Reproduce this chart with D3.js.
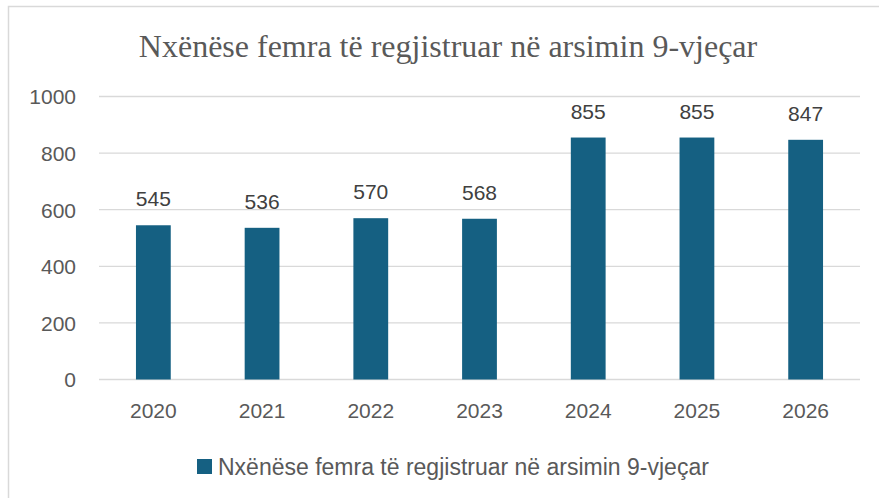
<!DOCTYPE html>
<html>
<head>
<meta charset="utf-8">
<script src="https://cdn.jsdelivr.net/npm/d3@7"></script>
<style>
  body { margin: 0; background: #fff; }
  svg { display: block; }
</style>
</head>
<body>
<svg id="chart" width="879" height="498"></svg>
<script>
// Të dhënat
const years = ["2020", "2021", "2022", "2023", "2024", "2025", "2026"];
const students = [545, 536, 570, 568, 855, 855, 847];
const yTicks = [0, 200, 400, 600, 800, 1000];
const chartTitle = "Nxënëse femra të regjistruar në arsimin 9-vjeçar";
const seriesName = "Nxënëse femra të regjistruar në arsimin 9-vjeçar";

const barColor = "#156082";
const sans = "'Liberation Sans', Arial, sans-serif";

const svg = d3.select("#chart");

// Korniza e grafikut
svg.append("rect")
  .attr("x", 8.5).attr("y", 6.5)
  .attr("width", 900).attr("height", 600)
  .attr("fill", "#fff")
  .attr("stroke", "#d9d9d9")
  .attr("stroke-width", 1.5);

// Shkallët
const x = d3.scaleBand()
  .domain(years)
  .range([99, 860])
  .paddingInner(0.68)
  .paddingOuter(0.34);

const y = d3.scaleLinear()
  .domain([0, 1000])
  .range([379.5, 96.5]);

// Titulli
svg.append("text")
  .attr("x", 448).attr("y", 57)
  .attr("text-anchor", "middle")
  .attr("font-family", "'Liberation Serif', 'Times New Roman', serif")
  .attr("font-size", 32)
  .attr("fill", "#595959")
  .text(chartTitle);

// Vijat e rrjetit
svg.append("g")
  .selectAll("line")
  .data(yTicks)
  .join("line")
  .attr("x1", 99).attr("x2", 860)
  .attr("y1", d => y(d)).attr("y2", d => y(d))
  .attr("stroke", "#d9d9d9")
  .attr("stroke-width", 1.3);

// Boshti Y
const yAxis = svg.append("g")
  .attr("transform", "translate(76,0)")
  .call(d3.axisLeft(y).tickValues(yTicks).tickFormat(d3.format("d")).tickSize(0).tickPadding(0));
yAxis.select(".domain").remove();
yAxis.selectAll("text")
  .attr("font-family", sans)
  .attr("font-size", 21)
  .attr("fill", "#595959")
  .attr("dy", "0.35em");

// Boshti X
const xAxis = svg.append("g")
  .attr("transform", "translate(0,379.5)")
  .call(d3.axisBottom(x).tickSize(0));
xAxis.select(".domain").remove();
xAxis.selectAll("text")
  .attr("y", 38)
  .attr("dy", 0)
  .attr("font-family", sans)
  .attr("font-size", 21)
  .attr("fill", "#595959");

// Shtyllat
svg.append("g")
  .selectAll("rect")
  .data(students)
  .join("rect")
  .attr("x", (d, i) => x(years[i]))
  .attr("y", d => y(d))
  .attr("width", x.bandwidth())
  .attr("height", d => y(0) - y(d))
  .attr("fill", barColor);

// Etiketat e vlerave
svg.append("g")
  .selectAll("text")
  .data(students)
  .join("text")
  .attr("x", (d, i) => x(years[i]) + x.bandwidth() / 2)
  .attr("y", d => y(d) - 19)
  .attr("text-anchor", "middle")
  .attr("font-family", sans)
  .attr("font-size", 21)
  .attr("fill", "#404040")
  .text(d => d);

// Legjenda
svg.append("rect")
  .attr("x", 197).attr("y", 459)
  .attr("width", 15).attr("height", 15)
  .attr("fill", barColor);
svg.append("text")
  .attr("x", 218).attr("y", 475)
  .attr("font-family", sans)
  .attr("font-size", 23)
  .attr("fill", "#595959")
  .text(seriesName);
</script>
</body>
</html>
